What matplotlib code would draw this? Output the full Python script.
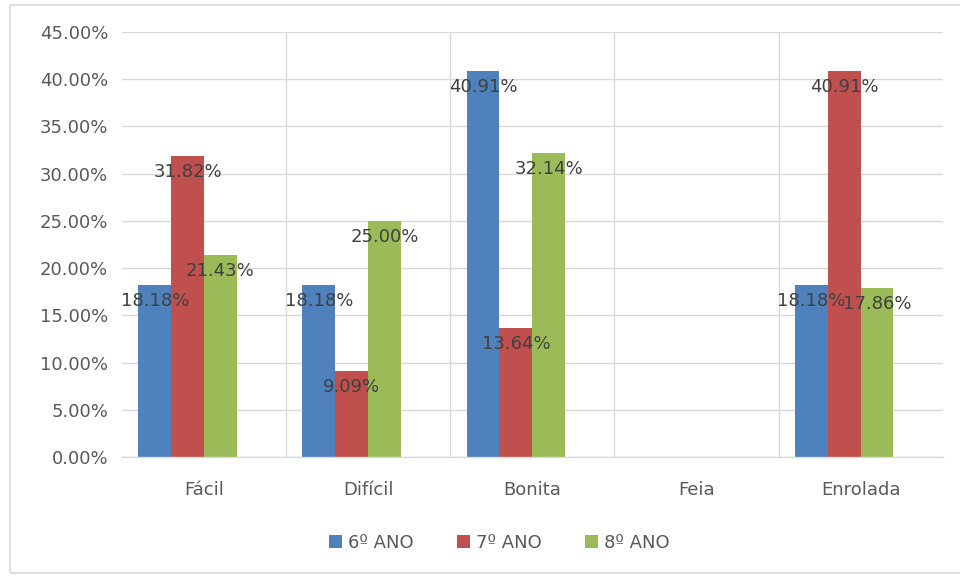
import numpy as np
import matplotlib.pyplot as plt
from matplotlib.patches import Rectangle
from matplotlib.ticker import FuncFormatter, FixedLocator

categories = ['Fácil', 'Difícil', 'Bonita', 'Feia', 'Enrolada']
series_names = ['6º ANO', '7º ANO', '8º ANO']
ano6 = [18.18, 18.18, 40.91, 0.0, 18.18]
ano7 = [31.82, 9.09, 13.64, 0.0, 40.91]
ano8 = [21.43, 25.00, 32.14, 0.0, 17.86]
colors = ['#4F81BD', '#C0504D', '#9BBB59']

TEXT = '#595959'
LABEL = '#404040'
GRID = '#D9D9D9'

plt.rcParams['font.family'] = ['DejaVu Sans']

fig = plt.figure(figsize=(9.6, 5.76), dpi=100)
ax = fig.add_axes([0.127, 0.2066, 0.855, 0.7378])

x = np.arange(len(categories))
width = 0.2
# four slots per group, last one left empty
offsets = [-1.5 * width, -0.5 * width, 0.5 * width]

for vals, name, col, off in zip([ano6, ano7, ano8], series_names, colors, offsets):
    ax.bar(x + off, vals, width, color=col, label=name, zorder=2)
    for xi, v in zip(x, vals):
        if v == 0:
            continue
        ax.annotate(f'{v:.2f}%', (xi + off, v), xytext=(0, -16),
                    textcoords='offset pixels', ha='center', va='center',
                    fontsize=13, color=LABEL, zorder=3)

ax.set_xlim(-0.5, len(categories) - 0.5)
ax.set_ylim(0, 45)
ax.set_yticks(np.arange(0, 46, 5))
ax.yaxis.set_major_formatter(FuncFormatter(lambda v, p: f'{v:.2f}%'))
ax.set_xticks(x)
ax.set_xticklabels(categories)
ax.xaxis.set_minor_locator(FixedLocator(x[:-1] + 0.5))

ax.grid(axis='y', which='major', color=GRID, linewidth=1.0, zorder=0)
ax.grid(axis='x', which='minor', color=GRID, linewidth=1.0, zorder=0)
ax.set_axisbelow(True)

for s in ['top', 'right', 'left']:
    ax.spines[s].set_visible(False)
ax.spines['bottom'].set_color(GRID)
ax.spines['bottom'].set_linewidth(1.0)

ax.tick_params(axis='both', which='both', length=0, colors=TEXT, labelsize=13)
ax.tick_params(axis='x', pad=17)
ax.tick_params(axis='y', pad=10)

leg = fig.legend(loc='center', bbox_to_anchor=(0.52, 0.057), ncol=3,
                 frameon=False, fontsize=13, handlelength=0.75, handleheight=0.75,
                 handletextpad=0.3, columnspacing=2.4)
for t in leg.get_texts():
    t.set_color(TEXT)

# light outer frame
fig.patches.append(Rectangle((10 / 960, 3 / 576), 1.0, 568 / 576,
                             transform=fig.transFigure, fill=False,
                             edgecolor=GRID, linewidth=1.2))

fig.savefig('out.png', dpi=100)
